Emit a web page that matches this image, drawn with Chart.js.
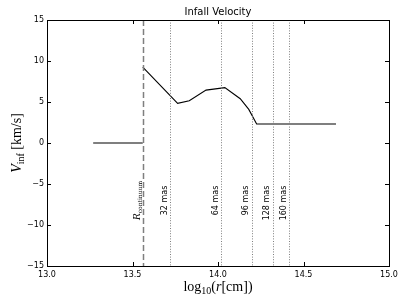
<!DOCTYPE html>
<html>
<head>
<meta charset="utf-8">
<script src="https://cdn.jsdelivr.net/npm/chart.js@4/dist/chart.umd.min.js"></script>
<style>
html,body{margin:0;padding:0;background:#fff;}
#wrap{width:407px;height:305px;position:relative;}
</style>
</head>
<body>
<div id="wrap"><canvas id="c"></canvas></div>
<script>
// ---- data ----
const logRadius = [13.27, 13.56, 13.56, 13.56, 13.764, 13.832, 13.93, 14.04, 14.13, 14.18, 14.226, 14.69];
const infallVelocity = [0, 0, null, 9.25, 4.84, 5.16, 6.45, 6.75, 5.4, 4.1, 2.32, 2.32];
const rContinuum = 13.56;
const masRadii = [13.72, 14.02, 14.196, 14.32, 14.417];
const masLabels = ['32 mas', '64 mas', '96 mas', '128 mas', '160 mas'];
const xTicks = [13.0, 13.5, 14.0, 14.5, 15.0];
const yTicks = [-15, -10, -5, 0, 5, 10, 15];
const titleText = 'Infall Velocity';

const points = logRadius.map((x, i) => ({x: x, y: infallVelocity[i]}));

const decor = {
  id: 'decor',
  afterDatasetsDraw(chart) {
    const ctx = chart.ctx, xs = chart.scales.x, ys = chart.scales.y, a = chart.chartArea;
    ctx.save();
    // vertical reference lines
    ctx.strokeStyle = '#7f7f7f';
    ctx.lineWidth = 1.5;
    ctx.setLineDash([6, 3]);
    let px = Math.round(xs.getPixelForValue(rContinuum)) + 0.5;
    ctx.beginPath(); ctx.moveTo(px, a.top); ctx.lineTo(px, a.bottom); ctx.stroke();
    ctx.lineWidth = 1;
    ctx.setLineDash([1, 1.6]);
    masRadii.forEach(r => {
      const p = Math.round(xs.getPixelForValue(r)) + 0.5;
      ctx.beginPath(); ctx.moveTo(p, a.top); ctx.lineTo(p, a.bottom); ctx.stroke();
    });
    ctx.setLineDash([]);
    // rotated labels
    ctx.fillStyle = '#000';
    const yAnchor = ys.getPixelForValue(-5.2);
    masRadii.forEach((r, i) => {
      const p = xs.getPixelForValue(r);
      ctx.save();
      ctx.translate(p - 1.5, yAnchor);
      ctx.rotate(-Math.PI / 2);
      ctx.font = '8px "DejaVu Sans"';
      ctx.textAlign = 'right';
      ctx.textBaseline = 'bottom';
      ctx.fillText(masLabels[i], 0, 0);
      ctx.restore();
    });
    // R_continuum label
    ctx.save();
    ctx.translate(xs.getPixelForValue(rContinuum) - 2, ys.getPixelForValue(-9.4));
    ctx.rotate(-Math.PI / 2);
    ctx.textAlign = 'left';
    ctx.textBaseline = 'alphabetic';
    ctx.font = 'italic 9px "DejaVu Serif"';
    ctx.fillText('R', 0, -1);
    const w = ctx.measureText('R').width;
    ctx.font = '6px "DejaVu Serif"';
    ctx.fillText('continuum', w, 1);
    ctx.restore();
    // frame
    ctx.strokeStyle = '#000';
    ctx.lineWidth = 1;
    ctx.strokeRect(Math.round(a.left) + 0.5, Math.round(a.top) + 0.5, Math.round(a.right - a.left), Math.round(a.bottom - a.top));
    // inward ticks on all four sides
    ctx.beginPath();
    xTicks.forEach(t => {
      const p = Math.round(xs.getPixelForValue(t)) + 0.5;
      ctx.moveTo(p, a.bottom); ctx.lineTo(p, a.bottom - 4);
      ctx.moveTo(p, a.top); ctx.lineTo(p, a.top + 4);
    });
    yTicks.forEach(t => {
      const p = Math.round(ys.getPixelForValue(t)) + 0.5;
      ctx.moveTo(a.left, p); ctx.lineTo(a.left + 4, p);
      ctx.moveTo(a.right, p); ctx.lineTo(a.right - 4, p);
    });
    ctx.stroke();
    // title
    ctx.font = '10px "DejaVu Sans"';
    ctx.textAlign = 'center';
    ctx.textBaseline = 'middle';
    ctx.fillText(titleText, (a.left + a.right) / 2, 12.5);
    // x axis label: log10(r[cm])
    drawRuns(ctx, [
      {t: 'log', f: '14px "Liberation Serif"', dy: 0},
      {t: '10', f: '10px "Liberation Serif"', dy: 3},
      {t: '(', f: '14px "Liberation Serif"', dy: 0},
      {t: 'r', f: 'italic 14px "Liberation Serif"', dy: 0},
      {t: '[cm])', f: '14px "Liberation Serif"', dy: 0}
    ], (a.left + a.right) / 2, 291);
    // y axis label: V_inf [km/s]
    ctx.save();
    ctx.translate(21, (a.top + a.bottom) / 2);
    ctx.rotate(-Math.PI / 2);
    drawRuns(ctx, [
      {t: 'V', f: 'italic 14px "Liberation Serif"', dy: 0},
      {t: 'inf', f: '10px "Liberation Serif"', dy: 3},
      {t: ' [km/s]', f: '14px "Liberation Serif"', dy: 0}
    ], 0, 0);
    ctx.restore();
    ctx.restore();
  }
};

function drawRuns(ctx, runs, cx, baseY) {
  let total = 0;
  runs.forEach(r => { ctx.font = r.f; r.w = ctx.measureText(r.t).width; total += r.w; });
  let x = cx - total / 2;
  ctx.textAlign = 'left';
  ctx.textBaseline = 'alphabetic';
  runs.forEach(r => { ctx.font = r.f; ctx.fillText(r.t, x, baseY + r.dy); x += r.w; });
}

new Chart(document.getElementById('c'), {
  type: 'line',
  data: {
    datasets: [{
      data: points,
      borderColor: '#000',
      borderWidth: 1.1,
      pointRadius: 0,
      fill: false,
      tension: 0,
      spanGaps: false
    }]
  },
  options: {
    responsive: true,
    maintainAspectRatio: false,
    animation: false,
    layout: {padding: {top: 20, right: 18, left: 0, bottom: 0}},
    plugins: {legend: {display: false}, tooltip: {enabled: false}, title: {display: false}},
    scales: {
      x: {
        type: 'linear', min: 13, max: 15,
        afterBuildTicks: s => { s.ticks = xTicks.map(v => ({value: v})); },
        afterFit: s => { s.height = 39; },
        grid: {display: false, drawTicks: false},
        border: {display: false},
        ticks: {
          padding: 4, color: '#000', maxRotation: 0,
          font: {family: 'DejaVu Sans', size: 8},
          callback: v => Number(v).toFixed(1)
        }
      },
      y: {
        type: 'linear', min: -15, max: 15,
        afterBuildTicks: s => { s.ticks = yTicks.map(v => ({value: v})); },
        afterFit: s => { s.width = 47; },
        grid: {display: false, drawTicks: false},
        border: {display: false},
        ticks: {
          padding: 3, color: '#000',
          font: {family: 'DejaVu Sans', size: 8},
          callback: v => (v < 0 ? '\u2212' + Math.abs(v) : String(v))
        }
      }
    }
  },
  plugins: [decor]
});
</script>
</body>
</html>
